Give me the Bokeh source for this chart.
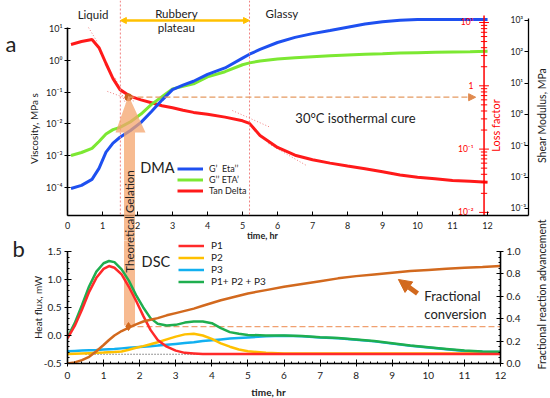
import math
from bokeh.plotting import figure
from bokeh.models import (Range1d, LogScale, LogAxis, LinearAxis, FixedTicker, SingleIntervalTicker,
                          NumeralTickFormatter, Span, Label, Arrow, NormalHead, PolyAnnotation,
                          BoxAnnotation, Legend, LegendItem)
from bokeh.layouts import column
from bokeh.embed import file_html
from bokeh.resources import INLINE
from bokeh.core.properties import value

FONT = "Lato"

# ---------------- panel a : DMA ----------------
t_dma = [0.1, 0.4, 0.7, 0.9, 1.1, 1.3, 1.5, 1.8, 2.1, 2.4, 2.7, 3.0, 3.3, 3.6, 4.0, 4.5,
         5.0, 5.2, 5.5, 6.0, 6.5, 7.0, 7.5, 8.0, 8.5, 9.0, 9.5, 10.0, 10.5, 11.0, 11.5, 12.0]
g_prime_eta2 = [9.3e-5, 1.17e-4, 1.8e-4, 4.0e-4, 1.3e-3, 2.5e-3, 3.8e-3, 6.2e-3, 1.12e-2, 2.45e-2,
                5.6e-2, 0.12, 0.166, 0.219, 0.363, 0.575, 1.17, 1.55, 2.19, 3.63,
                5.25, 6.9, 8.7, 11.0, 13.8, 16.2, 18.2, 19.0, 19.0, 19.0, 19.0, 19.0]
g_dprime_eta1 = [1.02e-3, 1.26e-3, 1.7e-3, 2.8e-3, 4.8e-3, 6.6e-3, 7.8e-3, 1.17e-2, 2.04e-2, 4.1e-2,
                 7.2e-2, 0.126, 0.151, 0.182, 0.302, 0.437, 0.724, 0.83, 0.955, 1.10,
                 1.20, 1.29, 1.38, 1.48, 1.55, 1.62, 1.70, 1.74, 1.78, 1.82, 1.86, 1.91]
tan_delta = [4.5, 5.0, 5.4, 4.0, 2.25, 1.3, 0.87, 0.68, 0.6, 0.54,
             0.485, 0.45, 0.41, 0.38, 0.355, 0.32, 0.28, 0.255, 0.164, 0.106,
             0.08, 0.068, 0.06, 0.054, 0.049, 0.044, 0.039, 0.036, 0.034, 0.032, 0.031, 0.030]

visc_ticks = [1e-4, 1e-3, 1e-2, 1e-1, 1e0, 1e1]
visc_labels = ["10⁻⁴", "10⁻³", "10⁻²", "10⁻¹", "10⁰", "10¹"]
shear_ticks = [1e-3, 1e-2, 1e-1, 1e0, 1e1, 1e2, 1e3]
shear_labels = ["10⁻³", "10⁻²", "10⁻¹", "10⁰", "10¹", "10²", "10³"]
lf_ticks = [1e-2, 1e-1, 1e0, 1e1]
lf_labels = ["10⁻²", "10⁻¹", "1", "10¹"]
lf_minor = [k * 10.0 ** e for e in (-2, -1, 0) for k in range(2, 10)]
hours_top = list(range(0, 13))

t_gel_dma = 1.51
t_vitr = 5.2
tang_x0 = [0.6, 1.14, 1.37, 4.71, 5.74]
tang_x1 = [0.86, 1.94, 1.66, 5.8, 6.83]
tang_y0 = [10.7, 0.105, 0.269, 0.0263, 0.0024]
tang_y1 = [3.63, 0.0501, 0.0437, 0.00776, 0.00049]
gel_point_t = 1.74
gel_point_lf = 0.66

# ---------------- panel b : DSC ----------------
t_dsc = [0, 0.2, 0.4, 0.6, 0.8, 1.0, 1.15, 1.3, 1.5, 1.7, 1.9, 2.1, 2.3, 2.5, 2.75, 3.0, 3.25, 3.5,
         3.75, 4.0, 4.25, 4.5, 4.75, 5.0, 5.5, 6.0, 6.5, 7.0, 7.5, 8.0, 8.5, 9.0, 9.5, 10.0, 10.5,
         11.0, 11.5, 12.0]
p1_flux = [-0.05, 0.17, 0.46, 0.78, 1.03, 1.19, 1.24, 1.21, 1.09, 0.87,
           0.62, 0.35, 0.10, -0.08, -0.20, -0.27, -0.31, -0.32, -0.33, -0.33] + [-0.33] * 18
p2_flux = [-0.33, -0.325, -0.32, -0.315, -0.31, -0.305, -0.30, -0.295, -0.285, -0.255,
           -0.22, -0.19, -0.155, -0.12, -0.07, -0.02, 0.02, 0.03, 0.0, -0.06,
           -0.14, -0.20, -0.25, -0.28, -0.31, -0.32] + [-0.32] * 12
p3_flux = [-0.28, -0.275, -0.27, -0.265, -0.26, -0.25, -0.245, -0.24, -0.23, -0.22,
           -0.21, -0.2, -0.19, -0.18, -0.165, -0.15, -0.135, -0.12, -0.10, -0.085,
           -0.07, -0.055, -0.045, -0.035, -0.015, -0.005, -0.015, -0.035, -0.05, -0.075,
           -0.105, -0.145, -0.185, -0.215, -0.245, -0.275, -0.29, -0.295]
sum_flux = [-0.03, 0.22, 0.54, 0.88, 1.14, 1.29, 1.33, 1.31, 1.18, 0.98,
            0.72, 0.50, 0.31, 0.21, 0.18, 0.19, 0.23, 0.25, 0.25, 0.22,
            0.13, 0.06, 0.03, 0.01, 0.0, 0.0, -0.01, -0.03, -0.045, -0.07,
            -0.1, -0.14, -0.18, -0.21, -0.24, -0.27, -0.285, -0.29]
conversion = [0.0, 0.01, 0.03, 0.06, 0.11, 0.165, 0.21, 0.25, 0.29, 0.32,
              0.35, 0.375, 0.39, 0.405, 0.43, 0.45, 0.47, 0.49, 0.515, 0.54,
              0.565, 0.585, 0.605, 0.625, 0.655, 0.685, 0.71, 0.735, 0.76, 0.78,
              0.795, 0.81, 0.825, 0.835, 0.845, 0.855, 0.862, 0.87]
baseline_flux = -0.335
gel_t_dsc = 1.69
gel_conv = 0.33

BLUE, LIME, RED = "#1E50F0", "#7CE832", "#FF1A1A"
C_P1, C_P2, C_P3, C_SUM, C_CONV = "#FF2A2A", "#FFC000", "#12B0F0", "#1FAE4F", "#D2691E"
PINK = "#F08080"
GEL = "#F4A46C"
TXT = "#222222"

# ================= TOP FIGURE (a) =================
p = figure(width=550, height=240, x_range=Range1d(0, 13.17),
           y_range=Range1d(10 ** -4.88, 10 ** 1.88), y_axis_type="log",
           output_backend="svg", toolbar_location=None, frame_align=False,
           min_border_left=67, min_border_right=22, min_border_top=0, min_border_bottom=25)
p.extra_y_ranges = {"lf": Range1d(10 ** -2.049, 10 ** 1.3475),
                    "shear": Range1d(10 ** -3.224, 10 ** 3.638)}
p.extra_y_scales = {"lf": LogScale(), "shear": LogScale()}
p.grid.visible = False
p.outline_line_color = None

ya = p.yaxis[0]
ya.ticker = FixedTicker(ticks=visc_ticks, minor_ticks=[])
ya.major_label_overrides = dict(zip(visc_ticks, visc_labels))
ya.bounds = (10 ** -4.88, 10 ** 1.03)
ya.axis_line_width = 1.6
ya.major_tick_in = 3
ya.major_tick_out = 3
ya.major_label_standoff = 2
ya.major_label_text_font = FONT
ya.major_label_text_font_size = "9px"
ya.major_label_text_color = TXT

xa = p.xaxis[0]
xa.ticker = FixedTicker(ticks=hours_top, minor_ticks=[])
xa.axis_line_width = 1.3
xa.major_tick_in = 4
xa.major_tick_out = 0
xa.major_label_standoff = 6
xa.major_label_text_font = FONT
xa.major_label_text_font_size = "9px"
xa.major_label_text_color = TXT

sa = LogAxis(y_range_name="shear", ticker=FixedTicker(ticks=shear_ticks, minor_ticks=[]),
             bounds=(10 ** -3.224, 10 ** 3.05))
sa.major_label_overrides = dict(zip(shear_ticks, shear_labels))
sa.axis_line_width = 1.3
sa.major_tick_in = 4
sa.major_tick_out = 0
sa.major_label_standoff = -18
sa.major_label_text_font = FONT
sa.major_label_text_font_size = "8.5px"
sa.major_label_text_color = TXT
p.add_layout(sa, "right")

for loc in (t_gel_dma, t_vitr):
    p.add_layout(Span(location=loc, dimension="height", line_color=PINK,
                      line_dash="2 2", line_width=1))
p.segment(x0=tang_x0, y0=tang_y0, x1=tang_x1, y1=tang_y1, line_color=PINK,
          line_dash="1 2", line_width=1)

r_red = p.line(t_dma, tan_delta, y_range_name="lf", line_color=RED, line_width=3)
r_lime = p.line(t_dma, g_dprime_eta1, line_color=LIME, line_width=3)
r_blue = p.line(t_dma, g_prime_eta2, line_color=BLUE, line_width=3)

# loss factor axis (red, drawn inside the plot)
lf_x = 11.9
p.segment(x0=[lf_x], y0=[10 ** -2.1], x1=[lf_x], y1=[10 ** 1.11], y_range_name="lf",
          line_color="red", line_width=1.5)
p.segment(x0=[lf_x - 0.14] * len(lf_ticks), y0=lf_ticks, x1=[lf_x + 0.14] * len(lf_ticks),
          y1=lf_ticks, y_range_name="lf", line_color="red", line_width=1)
p.segment(x0=[lf_x - 0.09] * len(lf_minor), y0=lf_minor, x1=[lf_x + 0.09] * len(lf_minor),
          y1=lf_minor, y_range_name="lf", line_color="red", line_width=1)
p.text(x=[lf_x - 0.3] * len(lf_ticks), y=lf_ticks, text=lf_labels, y_range_name="lf",
       text_font=value(FONT), text_font_size="8.5px", text_color="red",
       text_align="right", text_baseline="middle")
p.add_layout(Label(x=12.23, y=0.236, y_range_name="lf", text="Loss factor", angle=math.pi / 2,
                   text_font=FONT, text_font_size="11px", text_color="red",
                   text_align="center", text_baseline="middle"))

p.add_layout(Arrow(end=NormalHead(size=7, fill_color="#E08A4E", line_color="#E08A4E"),
                   x_start=gel_point_t, y_start=gel_point_lf, x_end=11.66, y_end=gel_point_lf,
                   y_range_name="lf", line_color="#E59A62", line_width=1.3, line_dash="6 3"))
p.scatter([gel_point_t], [gel_point_lf], y_range_name="lf", size=7, color="#C8641E")

p.add_layout(Arrow(start=NormalHead(size=6, fill_color="#FFC000", line_color="#FFC000"),
                   end=NormalHead(size=6, fill_color="#FFC000", line_color="#FFC000"),
                   x_start=t_gel_dma, y_start=17.8, x_end=t_vitr, y_end=17.8,
                   line_color="#FFC000", line_width=2.5))
for txt, x, y, al in [("Liquid", 0.73, 27.5, "center"), ("Rubbery", 3.11, 29.5, "center"),
                      ("plateau", 3.11, 10.7, "center"), ("Glassy", 5.66, 29.5, "left")]:
    p.add_layout(Label(x=x, y=y, text=txt, text_font=FONT, text_font_size="11.5px",
                       text_color=TXT, text_align=al, text_baseline="middle"))
p.add_layout(Label(x=6.51, y=0.0148, text="30°C isothermal cure", text_font=FONT,
                   text_font_size="13px", text_color=TXT, text_baseline="middle"))
p.add_layout(Label(x=2.57, y=4.3e-4, text="DMA", text_font=FONT, text_font_size="14.5px",
                   text_color=TXT, text_align="center", text_baseline="middle"))

leg_a = Legend(items=[LegendItem(label="G’  Eta’’", renderers=[r_blue]),
                      LegendItem(label="G’’ ETA’", renderers=[r_lime]),
                      LegendItem(label="Tan Delta", renderers=[r_red])],
               location=(110, 19), glyph_width=26, glyph_height=9, label_height=9,
               spacing=0, padding=0, margin=0, label_standoff=6, border_line_color=None,
               background_fill_alpha=0, label_text_font=FONT, label_text_font_size="9px",
               label_text_color=TXT)
p.add_layout(leg_a)

# ================= BOTTOM FIGURE (b) =================
q = figure(width=550, height=158, x_range=Range1d(0, 12), y_range=Range1d(-0.5, 1.696),
           output_backend="svg", toolbar_location=None, frame_align=False,
           min_border_left=67, min_border_right=50, min_border_top=0, min_border_bottom=35)
q.extra_y_ranges = {"frac": Range1d(0, 1.098)}
q.grid.visible = False
q.outline_line_color = None

for ax in (q.xaxis[0], q.yaxis[0]):
    ax.axis_line_width = 1.6
    ax.major_tick_in = 4
    ax.major_tick_out = 3
    ax.minor_tick_in = 2
    ax.minor_tick_out = 0
    ax.major_label_text_font = FONT
    ax.major_label_text_font_size = "10px"
    ax.major_label_text_color = TXT
q.xaxis[0].ticker = SingleIntervalTicker(interval=1, num_minor_ticks=5)
q.xaxis[0].major_label_standoff = 5
q.yaxis[0].ticker = SingleIntervalTicker(interval=0.5, num_minor_ticks=5)
q.yaxis[0].formatter = NumeralTickFormatter(format="0.0")
q.yaxis[0].major_label_standoff = 3
q.yaxis[0].bounds = (-0.5, 1.5)

frac_ticks = [0.0, 0.2, 0.4, 0.6, 0.8, 1.0]
ra = LinearAxis(y_range_name="frac",
                ticker=FixedTicker(ticks=frac_ticks,
                                   minor_ticks=[0.05, 0.1, 0.15, 0.25, 0.3, 0.35, 0.45, 0.5, 0.55,
                                                0.65, 0.7, 0.75, 0.85, 0.9, 0.95]),
                formatter=NumeralTickFormatter(format="0.0"), bounds=(0, 1))
ra.axis_line_width = 1.6
ra.major_tick_in = 4
ra.major_tick_out = 3
ra.minor_tick_in = 2
ra.minor_tick_out = 0
ra.major_label_standoff = 3
ra.major_label_text_font = FONT
ra.major_label_text_font_size = "10px"
ra.major_label_text_color = TXT
q.add_layout(ra, "right")

# lower part of the gelation bar (behind the curves)
q.add_layout(BoxAnnotation(left=1.566, right=1.871, bottom=0.18, top=None,
                           fill_color=GEL, fill_alpha=0.75, line_color=None, level="underlay"))

q.line([0.5, 12], [baseline_flux, baseline_flux], line_color="#333333", line_dash="1 2",
       line_width=1)
q.line([gel_t_dsc, 12], [gel_conv, gel_conv], y_range_name="frac", line_color="#F0A070",
       line_dash="6 3", line_width=1.3)
rb = q.line(t_dsc, p3_flux, line_color=C_P3, line_width=2.5)
ry = q.line(t_dsc, p2_flux, line_color=C_P2, line_width=2.5)
rg = q.line(t_dsc, sum_flux, line_color=C_SUM, line_width=2.5)
rr = q.line(t_dsc, p1_flux, line_color=C_P1, line_width=2.5)
q.line(t_dsc, conversion, y_range_name="frac", line_color=C_CONV, line_width=2.5)
q.scatter([gel_t_dsc], [gel_conv], y_range_name="frac", marker="diamond", size=8, color=C_CONV)

q.add_layout(Arrow(end=NormalHead(size=13, fill_color=C_CONV, line_color=C_CONV),
                   x_start=9.70, y_start=0.625, x_end=9.17, y_end=0.75, y_range_name="frac",
                   line_color=C_CONV, line_width=5))
q.add_layout(Label(x=9.89, y=0.607, y_range_name="frac", text="Fractional", text_font=FONT,
                   text_font_size="13px", text_color=TXT, text_baseline="middle"))
q.add_layout(Label(x=9.89, y=0.446, y_range_name="frac", text="conversion", text_font=FONT,
                   text_font_size="13px", text_color=TXT, text_baseline="middle"))
q.add_layout(Label(x=2.45, y=1.32, text="DSC", text_font=FONT, text_font_size="14.5px",
                   text_color=TXT, text_align="center", text_baseline="middle"))

leg_b = Legend(items=[LegendItem(label="P1", renderers=[rr]),
                      LegendItem(label="P2", renderers=[ry]),
                      LegendItem(label="P3", renderers=[rb]),
                      LegendItem(label="P1+ P2 + P3", renderers=[rg])],
               location=(111, 76), glyph_width=26, glyph_height=11, label_height=11,
               spacing=0, padding=0, margin=0, label_standoff=7, border_line_color=None,
               background_fill_alpha=0, label_text_font=FONT, label_text_font_size="10px",
               label_text_color=TXT)
q.add_layout(leg_b)

# ================= OVERLAY (page-level annotations, pixel coordinates) =================
o = figure(width=550, height=398, x_range=Range1d(0, 550), y_range=Range1d(398, 0),
           output_backend="svg", toolbar_location=None, x_axis_location=None,
           y_axis_location=None, min_border=0, margin=(-398, 0, 0, 0), frame_align=False)
o.grid.visible = False
o.outline_line_color = None
o.background_fill_alpha = 0
o.border_fill_alpha = 0

# gelation arrow (head in panel a, shaft down to panel b)
o.add_layout(PolyAnnotation(xs=[123.5, 123.5, 115, 128, 145, 134.5, 134.5],
                            ys=[240, 132, 132, 95, 132, 132, 240],
                            fill_color=GEL, fill_alpha=0.75, line_color=None))
o.add_layout(Label(x=129, y=221, text="Theoretical Gelation", angle=math.pi / 2,
                   text_font=FONT, text_font_size="11.5px", text_color=TXT,
                   text_align="center", text_baseline="middle"))

for txt, x, y, size, ang, style in [
        ("a", 5, 43, "22px", 0, "normal"),
        ("b", 12, 248, "22px", 0, "normal"),
        ("Viscosity, MPa s", 33, 128, "10px", math.pi / 2, "normal"),
        ("Shear Modulus, MPa", 541, 115, "10.5px", math.pi / 2, "normal"),
        ("Heat flux, mW", 37, 307, "10px", math.pi / 2, "normal"),
        ("Fractional reaction advancement", 541, 294, "10.5px", math.pi / 2, "normal"),
        ("time, hr", 262, 235, "9px", 0, "bold"),
        ("time, hr", 268, 391, "10px", 0, "bold")]:
    o.add_layout(Label(x=x, y=y, text=txt, angle=ang, text_font=FONT, text_font_size=size,
                       text_font_style=style, text_color=TXT,
                       text_align="left" if txt in ("a", "b") else "center",
                       text_baseline="middle"))

layout = column(p, q, o, spacing=0)
open("out.html", "w").write(file_html(layout, INLINE))
